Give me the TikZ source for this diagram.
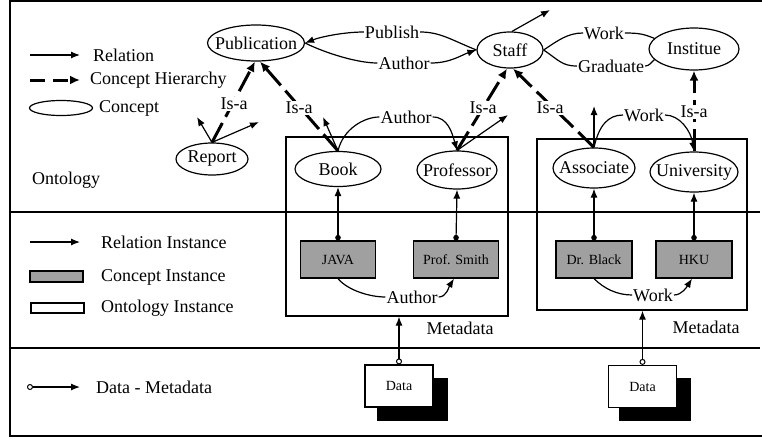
\documentclass[tikz,border=0pt]{standalone}
\usepackage{fontspec}
\setmainfont{Liberation Serif}
\usetikzlibrary{arrows.meta,shapes.geometric}
\definecolor{boxgray}{RGB}{160,160,160}
\newcommand\cz[1]{\makebox[0pt]{#1}}
\begin{document}
\begin{tikzpicture}[x=1pt,y=-1pt,
  every node/.style={font=\fontsize{18}{21}\selectfont},
  concept/.style={ellipse,draw,line width=1.2pt,fill=white,inner sep=0pt},
  txt/.style={anchor=west,inner sep=0pt},
  lbl/.style={inner sep=1pt},
  isa/.style={fill=white,inner sep=1.5pt},
  plainln/.style={line width=1.2pt},
  rel/.style={line width=1.2pt,-{Latex[length=9pt,width=7pt]}},
  hier/.style={line width=3pt,dash pattern=on 22pt off 7pt,-{Latex[length=10pt,width=9pt]}},
  legendhier/.style={line width=3pt,dash pattern=on 15pt off 8pt,-{Latex[length=10pt,width=9pt]}},
  instarr/.style={line width=1.2pt,{Circle[length=5.5pt]}-{Latex[length=9pt,width=7pt]}},
  dm/.style={line width=1.2pt,{Circle[open,length=6pt,width=6pt,line width=1pt]}-{Latex[length=9pt,width=7pt]}},
  cinst/.style={draw,fill=boxgray,line width=1.2pt,minimum height=37pt,inner sep=0pt,font=\fontsize{14}{16}\selectfont},
  databox/.style={draw,fill=white,line width=1.2pt,minimum width=68pt,minimum height=42pt,inner sep=0pt,font=\fontsize{14}{16}\selectfont},
  mbox/.style={draw,line width=1.2pt,inner sep=0pt},
  frameln/.style={line width=1.3pt},
]
\useasboundingbox (0,0) rectangle (762,439);

% frame and dividers
\draw[frameln] (762,1) -- (10,1) -- (10,436) -- (762,436);
\draw[frameln] (10,212) -- (760,212);
\draw[frameln] (10,348) -- (760,348);

% metadata boxes
\node[mbox,minimum width=222pt,minimum height=179pt] (meta1) at (397,226.5) {};
\node[mbox,minimum width=210pt,minimum height=171pt] (meta2) at (642,224.5) {};
\node (md1) at (460,328) {Metadata};
\node (md2) at (706,327) {Metadata};

% concepts
\node[concept,minimum width=97pt,minimum height=36pt] (pub) at (256,43) {\cz{Publication}};
\node[concept,minimum width=66pt,minimum height=36pt] (staff) at (510,50) {\cz{Staff}};
\node[concept,minimum width=90pt,minimum height=42pt] (institue) at (694,49) {\cz{Institue}};
\node[concept,minimum width=72pt,minimum height=32pt] (report) at (212,159) {\cz{Report}};
\node[concept,minimum width=86pt,minimum height=35pt] (book) at (338,169) {\cz{Book}};
\node[concept,minimum width=80pt,minimum height=38pt] (prof) at (457,170) {\cz{Professor}};
\node[concept,minimum width=82pt,minimum height=40pt] (assoc) at (594,168) {\cz{Associate}};
\node[concept,minimum width=88pt,minimum height=40pt] (univ) at (694,172) {\cz{University}};

% concept instances
\node[cinst,minimum width=75pt] (java) at (338,259.5) {JAVA};
\node[cinst,minimum width=85pt] (smith) at (456,259.5) {Prof. Smith};
\node[cinst,minimum width=76pt] (black) at (594,259.5) {Dr. Black};
\node[cinst,minimum width=76pt] (hku) at (694,259.5) {HKU};

% data
\fill (377,378) rectangle (448,421);
\node[databox] (data1) at (399,386) {Data};
\fill (619,378) rectangle (691,421);
\node[databox] (data2) at (642.5,386.5) {Data};

% relation labels
\node[lbl] (lpub) at (392,32) {Publish};
\node[lbl] (lauth) at (404,63) {Author};
\node[lbl] (lwork) at (604,33) {Work};
\node[lbl] (lgrad) at (611,66) {Graduate};
\node[lbl] (lauth2) at (406,117) {Author};
\node[lbl] (lwork2) at (644,115) {Work};
\node[lbl] (lauth3) at (412,297) {Author};
\node[lbl] (lwork3) at (653,295) {Work};

% top relations
\draw[plainln] (staff.west) .. controls +(-25,-10) and +(20,0) .. (lpub.east);
\draw[rel] (lpub.west) .. controls +(-20,0) and +(15,-6) .. (pub.east);
\draw[plainln] (pub.east) .. controls +(20,10) and +(-20,0) .. (lauth.west);
\draw[rel] (lauth.east) .. controls +(20,0) and +(-15,5) .. (staff.west);
\draw[plainln] (staff.east) .. controls +(15,-10) and +(-15,0) .. (lwork.west);
\draw[plainln] (lwork.east) .. controls +(15,0) and +(-10,-4) .. (institue.165);
\draw[plainln] (staff.east) .. controls +(15,10) and +(-15,0) .. (lgrad.west);
\draw[plainln] (lgrad.east) .. controls +(4,0) and +(-3,3) .. (institue.195);

% free ends of thin arrows
\coordinate (rA) at (197,117);
\coordinate (rB) at (259,122);
\coordinate (bA) at (323,117);
\coordinate (pA) at (508,115);
\coordinate (aA) at (594,106);
\coordinate (sA) at (550,10);
\draw[rel] (report.north) -- (rA);
\draw[rel] (report.north) -- (rB);
\draw[rel] (book.north) -- (bA);
\draw[rel] (prof.north) -- (pA);
\draw[rel] (assoc.north) -- (aA);
\draw[rel] ([xshift=2pt]staff.north) -- (sA);

% middle relations
\draw[plainln] (book.north) .. controls +(5,-22) and +(-15,0) .. (lauth2.west);
\draw[rel] (lauth2.east) .. controls +(15,0) and +(-5,-18) .. (prof.north);
\draw[plainln] (assoc.north) .. controls +(5,-22) and +(-15,0) .. (lwork2.west);
\draw[rel] (lwork2.east) .. controls +(15,0) and +(-3,-20) .. (univ.north);

% concept hierarchy
\draw[hier] (report.north) -- ([xshift=-1pt]pub.south);
\draw[hier] (book.north) -- ([xshift=4pt]pub.south);
\draw[hier] (prof.north) -- ([xshift=-3pt]staff.south);
\draw[hier] (assoc.north) -- ([xshift=3pt]staff.south);
\draw[hier] (univ.north) -- (institue.south);
\node[isa] (isa1) at (234,104) {Is-a};
\node[isa] (isa2) at (299,108) {Is-a};
\node[isa] (isa3) at (483,108) {Is-a};
\node[isa] (isa4) at (550,108) {Is-a};
\node[isa] (isa5) at (694,112) {Is-a};

% instance relations
\draw[instarr] (java.north) -- (book.south);
\draw[instarr] (smith.north) -- (prof.south);
\draw[instarr] (black.north) -- (assoc.south);
\draw[instarr] (hku.north) -- (univ.south);
\draw[plainln] (java.south) .. controls +(10,12) and +(-15,0) .. (lauth3.west);
\draw[rel] (lauth3.east) .. controls +(8,0) and +(-5,8) .. ([xshift=-2pt]smith.south);
\draw[plainln] (black.south) .. controls +(10,10) and +(-15,0) .. (lwork3.west);
\draw[rel] (lwork3.east) .. controls +(8,0) and +(-5,8) .. ([xshift=-2pt]hku.south);

% data - metadata
\draw[dm] (data1.north) -- (data1.north |- meta1.south);
\draw[dm] (data2.north) -- (data2.north |- meta2.south);

% legend (ontology)
\coordinate (l1a) at (30,55); \coordinate (l1b) at (80,55);
\draw[rel] (l1a) -- (l1b);
\node[txt] (t1) at (93,55) {Relation};
\coordinate (l2a) at (30,80); \coordinate (l2b) at (80,80);
\draw[legendhier] (l2a) -- (l2b);
\node[txt] (t2) at (90,80) {Concept Hierarchy};
\node[concept,minimum width=63pt,minimum height=15pt] (lc) at (61,108) {};
\node[txt] (t3) at (99,108) {Concept};
\node[txt] (t4) at (32,180) {Ontology};

% legend (instances)
\coordinate (l3a) at (30,242); \coordinate (l3b) at (80,242);
\draw[rel] (l3a) -- (l3b);
\node[txt] (t5) at (101,242) {Relation Instance};
\node[draw,fill=boxgray,line width=1.2pt,minimum width=53pt,minimum height=11pt,inner sep=0pt] (lci) at (56.5,276.5) {};
\node[txt] (t6) at (101,277) {Concept Instance};
\node[draw,line width=1.2pt,minimum width=53pt,minimum height=10pt,inner sep=0pt] (loi) at (57.5,308) {};
\node[txt] (t7) at (101,308) {Ontology Instance};

% legend (data)
\coordinate (l4a) at (27,387); \coordinate (l4b) at (80,387);
\draw[dm] (l4a) -- (l4b);
\node[txt] (t8) at (96,387) {Data - Metadata};
\end{tikzpicture}
\end{document}
